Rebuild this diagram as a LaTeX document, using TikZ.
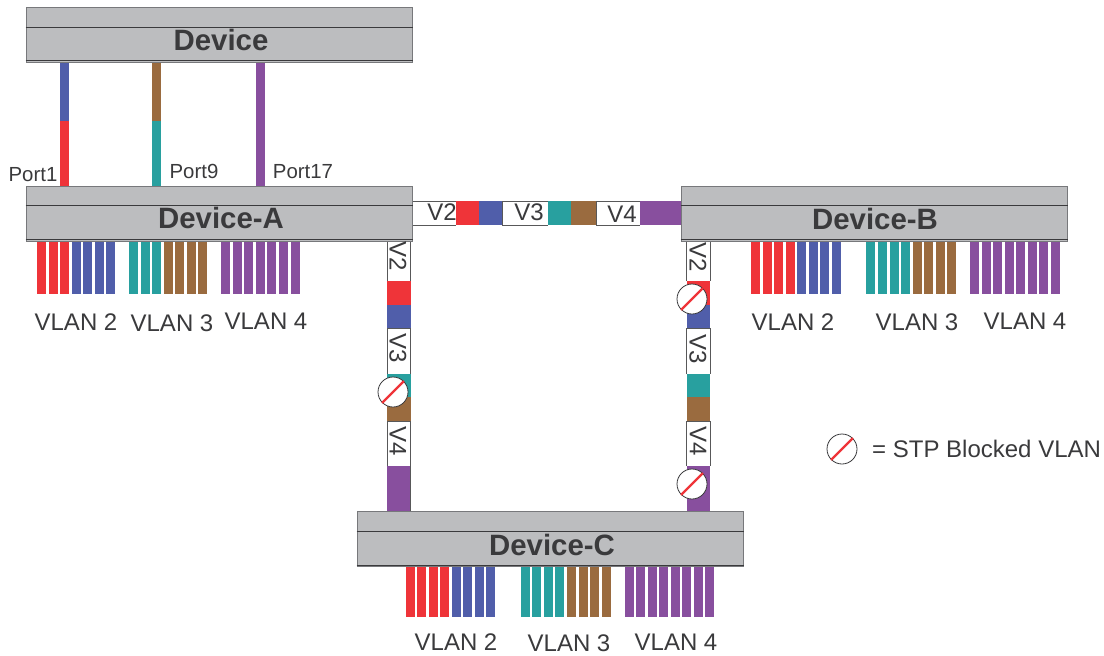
\documentclass[tikz,border=0pt]{standalone}
\usepackage{fontspec}
\setmainfont{Liberation Sans}
\definecolor{vred}{HTML}{EF3439}
\definecolor{vblue}{HTML}{505EAA}
\definecolor{vteal}{HTML}{28A09F}
\definecolor{vbrown}{HTML}{9A6B3F}
\definecolor{vpurple}{HTML}{884F9E}
\definecolor{devgray}{HTML}{BCBDBF}
\definecolor{devedge}{HTML}{77787B}
\definecolor{ink}{HTML}{3A3A3C}
\tikzset{
  devbox/.style={draw=devedge,line width=1pt,fill=devgray,rectangle,minimum width=386pt,minimum height=55pt,inner sep=0pt},
  devline/.style={draw=ink,line width=0.9pt},
  devlabel/.style={anchor=base,inner sep=0pt,text=ink,font=\fontsize{29.4}{32}\selectfont\bfseries},
  vlanlabel/.style={anchor=base,inner sep=0pt,text=ink,font=\fontsize{24}{28}\selectfont},
  portlabel/.style={anchor=base,inner sep=0pt,text=ink,font=\fontsize{20.4}{24}\selectfont},
  vvlabel/.style={inner sep=0pt,text=ink,rotate=-90,font=\fontsize{24}{28}\selectfont},
  wire/.style={line width=9pt},
  frameline/.style={draw=ink!85,line width=0.9pt},
  blockc/.style={circle,draw=ink,line width=0.8pt,fill=white,minimum size=30pt,inner sep=0pt},
  slash/.style={draw=vred,line width=2.4pt},
}
\newcommand{\stripes}[3]{\foreach \xx in {#3} \fill[#1] (\xx,#2) rectangle ++(9,\stripeh);}
\newcommand{\blocked}[2]{\node[blockc] (#1) at (#2) {}; \draw[slash] (#1.225) -- (#1.45);}
\newcommand{\hwhite}[2]{\fill[white] (#1,201) rectangle (#2,225); \draw[frameline] (#2,201) -- (#1,201) -- (#1,225) -- (#2,225);}
\newcommand{\vwhite}[4]{\fill[white] (#1,#3) rectangle (#2,#4); \draw[frameline] (#1,#4) -- (#1,#3) -- (#2,#3) -- (#2,#4);}
\begin{document}
\begin{tikzpicture}[x=1pt,y=-1pt]
\useasboundingbox (0,0) rectangle (1104,656);
% stripes
\def\stripeh{53}
\stripes{vred}{241}{37,49,60}
\stripes{vblue}{241}{72,83,95,106}
\stripes{vteal}{241}{129,141,152}
\stripes{vbrown}{241}{164,175,187,198}
\stripes{vpurple}{241}{221,233,244,256,267,279,291}
\stripes{vred}{241}{751,763,774,786}
\stripes{vblue}{241}{797,809,820,832}
\stripes{vteal}{241}{866,878,890,901}
\stripes{vbrown}{241}{913,924,936,947}
\stripes{vpurple}{241}{970,982,993,1005,1016,1028,1039,1051}
\def\stripeh{50}
\stripes{vred}{567}{406,417,429,440}
\stripes{vblue}{567}{452,463,475,486}
\stripes{vteal}{567}{521,532,544,555}
\stripes{vbrown}{567}{567,579,590,602}
\stripes{vpurple}{567}{625,636,648,659,671,682,694,705}
% port positions
\coordinate (p1) at (64.5,121);
\coordinate (p9) at (156.5,121);
\coordinate (p17) at (260.5,121);
% horizontal link A-B
\hwhite{412}{456}
\fill[vred] (456,201) rectangle (479,225);
\fill[vblue] (479,201) rectangle (502,225);
\hwhite{502.5}{548}
\fill[vteal] (548,201) rectangle (571,225);
\fill[vbrown] (571,201) rectangle (596,225);
\hwhite{596.5}{640}
\fill[vpurple] (640,201) rectangle (681,225);
% vertical links
\foreach \xl/\xr in {387/410.5,686.5/710}{
  \vwhite{\xl}{\xr}{241}{281}
  \fill[vred] (\xl,281) rectangle (\xr,305);
  \fill[vblue] (\xl,305) rectangle (\xr,328);
  \vwhite{\xl}{\xr}{328.5}{374}
  \fill[vteal] (\xl,374) rectangle (\xr,397);
  \fill[vbrown] (\xl,397) rectangle (\xr,421);
  \vwhite{\xl}{\xr}{421.5}{466}
  \fill[vpurple] (\xl,466) rectangle (\xr,511);
}
\draw[frameline] (410.5,466) -- (410.5,511);
% device boxes
\node[devbox] (dev) at (219,35) {};
\node[devbox] (devA) at (219,213.5) {};
\node[devbox] (devB) at (874,213.5) {};
\node[devbox] (devC) at (550,539) {};
\foreach \d/\a/\b in {dev/27/60.5,devA/205/239,devB/205/239.5,devC/531/565}{
  \draw[devline] (\d.west |- 0,\a) -- (\d.east |- 0,\a);
  \draw[devline] (\d.west |- 0,\b) -- (\d.east |- 0,\b);
}
% port links
\draw[wire,vblue] (dev.south -| p1) -- (p1);
\draw[wire,vred] (p1) -- (devA.north -| p1);
\draw[wire,vbrown] (dev.south -| p9) -- (p9);
\draw[wire,vteal] (p9) -- (devA.north -| p9);
\draw[wire,vpurple] (dev.south -| p17) -- (devA.north -| p17);
% labels
\node[devlabel] (ldev) at (221,50.5) {Device};
\node[devlabel] (ldevA) at (221,228.7) {Device-A};
\node[devlabel] (ldevB) at (875,229) {Device-B};
\node[devlabel] (ldevC) at (552,555) {Device-C};
\node[portlabel] (port1) at (33,181) {Port1};
\node[portlabel] (port9) at (194,178) {Port9};
\node[portlabel] (port17) at (303,178) {Port17};
\node[vlanlabel] (a2) at (76,330) {VLAN 2};
\node[vlanlabel] (a3) at (172,331) {VLAN 3};
\node[vlanlabel] (a4) at (266,329) {VLAN 4};
\node[vlanlabel] (b2) at (793,330) {VLAN 2};
\node[vlanlabel] (b3) at (917,330) {VLAN 3};
\node[vlanlabel] (b4) at (1025,329) {VLAN 4};
\node[vlanlabel] (c2) at (456,650) {VLAN 2};
\node[vlanlabel] (c3) at (569,651) {VLAN 3};
\node[vlanlabel] (c4) at (676,650) {VLAN 4};
\node[vlanlabel] (h2) at (442,220.7) {V2};
\node[vlanlabel] (h3) at (529,220.7) {V3};
\node[vlanlabel] (h4) at (622,222.5) {V4};
\node[vvlabel] (l2) at (398,256) {V2};
\node[vvlabel] (l3) at (398,348) {V3};
\node[vvlabel] (l4) at (398,441) {V4};
\node[vvlabel] (r2) at (698,257) {V2};
\node[vvlabel] (r3) at (698,349) {V3};
\node[vvlabel] (r4) at (698,441) {V4};
% blocked markers
\blocked{bl}{393,392}
\blocked{brt}{692,299}
\blocked{brb}{692,484}
\blocked{leg}{842,449}
\node[vlanlabel,anchor=base west] (legtext) at (872,457) {= STP Blocked VLAN};
\end{tikzpicture}
\end{document}
